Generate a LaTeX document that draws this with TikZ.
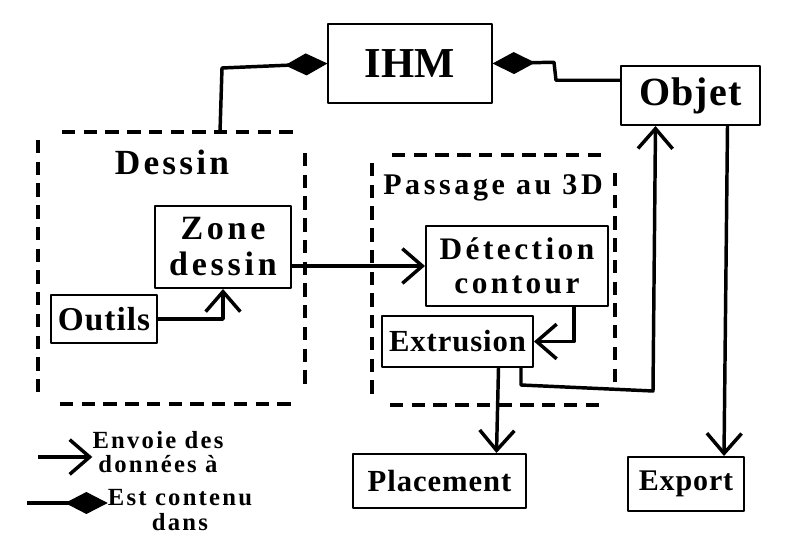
\documentclass[tikz,border=0pt]{standalone}
\usepackage{fontspec}
\setmainfont{Liberation Serif}
\usetikzlibrary{arrows.meta,calc}
\newcommand{\lsp}[1]{\addfontfeature{LetterSpace=#1}}
\tikzset{
  box/.style={draw, line width=1.5pt, inner sep=0pt, align=center},
  frame/.style={line width=3.4pt, dash pattern=on 10pt off 6.3pt},
  sends/.style={line width=2.6pt, -{Straight Barb[length=15pt,width=26pt,line width=2.6pt]}},
  contains/.style={line width=2.6pt, -{Diamond[length=32pt,width=16.5pt]}},
  legtext/.style={align=center, inner sep=0pt, font=\bfseries\fontsize{18.5pt}{18.5pt}\selectfont\lsp{9}}
}
\begin{document}
\begin{tikzpicture}[x=0.75pt, y=-0.75pt, line join=round]
  \useasboundingbox (0,0) rectangle (800,542);
  % boxes
  \node[box, line width=0.8pt, minimum width=123pt, minimum height=59.25pt, font=\bfseries\fontsize{32pt}{34pt}\selectfont] (ihm) at (410,63.5) {IHM};
  \node[box, minimum width=104.25pt, minimum height=44.25pt, font=\bfseries\fontsize{30pt}{32pt}\selectfont\lsp{3}] (objet) at (690.5,95.5) {Objet};
  \node[box, minimum width=102pt, minimum height=61.5pt, font=\bfseries\fontsize{25.5pt}{27pt}\selectfont\lsp{11}] (zone) at (223,247) {Zone\\dessin};
  \node[box, minimum width=79.5pt, minimum height=36pt, font=\bfseries\fontsize{25pt}{27pt}\selectfont\lsp{3}] (outils) at (104,319) {Outils};
  \node[box, minimum width=136.5pt, minimum height=60pt, font=\bfseries\fontsize{23.5pt}{25.5pt}\selectfont\lsp{11}] (detection) at (517,266) {Détection\\contour};
  \node[box, minimum width=113.25pt, minimum height=38.25pt, font=\bfseries\fontsize{23pt}{25pt}\selectfont\lsp{3}] (extrusion) at (457.5,341.5) {Extrusion};
  \node[box, minimum width=129.75pt, minimum height=40.5pt, font=\bfseries\fontsize{23pt}{25pt}\selectfont\lsp{3}] (placement) at (439.5,481) {Placement};
  \node[box, minimum width=87pt, minimum height=40.5pt, font=\bfseries\fontsize{22.5pt}{24pt}\selectfont\lsp{3}] (export) at (686,484) {Export};
  % dashed groups
  \draw[frame] (62,132) -- (295,132);
  \draw[frame] (38,140) -- (38,395);
  \draw[frame] (305,153) -- (305,386);
  \draw[frame] (60,404) -- (293,404);
  \node[anchor=base, inner sep=0pt, font=\bfseries\fontsize{26.5pt}{28pt}\selectfont\lsp{9}] (dessin) at (172,174) {Dessin};
  \draw[frame] (392,155) -- (605,155);
  \draw[frame] (372,163) -- (372,395);
  \draw[frame] (615,173) -- (615,387);
  \draw[frame] (390,405) -- (603,405);
  \node[anchor=base, inner sep=0pt, font=\bfseries\fontsize{22.5pt}{24pt}\selectfont\lsp{12}] (passage) at (493,194) {Passage au 3D};
  % data flow
  \draw[sends] (outils.east) -| (zone.south);
  \draw[sends] (zone.east |- detection.west) -- (detection.west);
  \draw[sends] ($(detection.south)+(57,0)$) |- (extrusion.east);
  \draw[sends] ($(extrusion.south)+(41,0)$) -- ($(placement.north)+(57,0)$);
  \draw[sends] ($(extrusion.south east)+(-13,0)$) -- ++(0,17) -- ++(132,6) -- ($(objet.south)+(-35,0)$);
  \draw[sends] ($(objet.south)+(37,0)$) -- ($(export.north)+(38,0)$);
  % containment
  \coordinate (dtop) at (220,132);
  \draw[contains] (dtop) -- ++(2,-64) -- (ihm.west);
  \draw[contains] ($(objet.north west)!0.25!(objet.south west)$) -- ++(-64,0) -- ++(-2,-18) -- (ihm.east);
  % legend
  \coordinate (lega) at (38,457);
  \coordinate (legb) at (27,503);
  \node[legtext] (leg1) at (158,452) {Envoie des\\données à};
  \node[legtext] (leg2) at (180,510) {Est contenu\\dans};
  \draw[sends] (lega) -- (lega -| leg1.west);
  \draw[contains] (legb) -- (legb -| leg2.west);
\end{tikzpicture}
\end{document}
